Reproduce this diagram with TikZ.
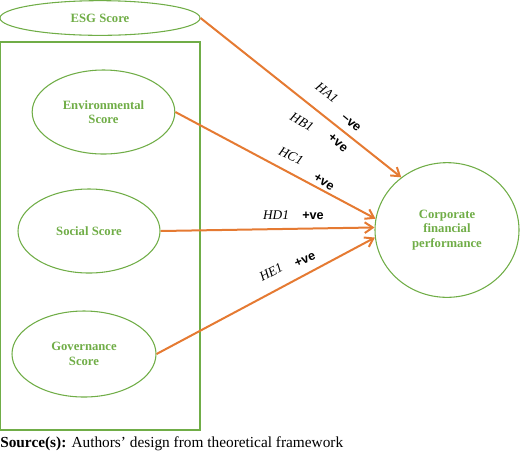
\documentclass[tikz,border=0pt]{standalone}
\usepackage{fontspec}
\setmainfont{Liberation Serif}
\newfontfamily\signfont{Liberation Sans}
\usetikzlibrary{shapes.geometric,arrows.meta}
\definecolor{scoregreen}{HTML}{70AD47}
\definecolor{linkorange}{HTML}{E57A32}
\tikzset{
  score/.style={ellipse,draw=scoregreen,line width=0.8pt,text=scoregreen,align=center,inner sep=0pt,
    font=\fontsize{9.5}{11}\selectfont\bfseries},
  link/.style={linkorange,line width=1.5pt,-{Straight Barb[length=6pt,width=8pt]}},
  hyp/.style={inner sep=0pt,font=\fontsize{10}{12}\selectfont\itshape},
  sign/.style={inner sep=0pt,font=\signfont\fontsize{9.5}{11}\selectfont\bfseries},
}
\begin{document}
\begin{tikzpicture}[x=0.75pt,y=-0.75pt]
\useasboundingbox (0,0) rectangle (520,455);
%\draw[step=20,gray,very thin] (0,0) grid (520,455); %background grid
\draw[scoregreen,line width=0.8pt](0.5,42) rectangle (200,430);

\node[score,minimum width=150pt,minimum height=26pt] (esg) at (100,18) {ESG Score};
\node[score,minimum width=107pt,minimum height=63pt] (env) at (103.5,112) {Environmental\\Score};
\node[score,minimum width=106.5pt,minimum height=63pt] (soc) at (89,231) {Social Score};
\node[score,minimum width=108pt,minimum height=64.5pt] (gov) at (84,354) {Governance\\Score};
\node[score,minimum width=108pt,minimum height=101pt] (cfp) at (447,230) {Corporate\\financial\\performance};

\draw[link](esg.east)--(cfp.131);
\draw[link](env.east)--(cfp.171);
\draw[link](soc.east)--(cfp.178);
\draw[link](gov.east)--(cfp.186);

\node[hyp,rotate=-38] (ha) at (327,93)  {HA1}; \node[sign,rotate=-40] (sa) at (351,123) {\textendash ve};
\node[hyp,rotate=-30] (hb) at (302,122) {HB1}; \node[sign,rotate=-40] (sb) at (338,143) {+ve};
\node[hyp,rotate=-25] (hc) at (291,156) {HC1}; \node[sign,rotate=-32] (sc) at (324,182) {+ve};
\node[hyp]            (hd) at (276,215) {HD1}; \node[sign]           (sd) at (313,216) {+ve};
\node[hyp,rotate=28]  (he) at (271,272) {HE1}; \node[sign,rotate=23]  (se) at (305,260) {+ve};

\node[anchor=base west,inner sep=0pt,font=\fontsize{11.5}{13}\selectfont] (src) at (0,447)
  {\textbf{Source(s):} Authors’ design from theoretical framework};
\end{tikzpicture}
\end{document}
